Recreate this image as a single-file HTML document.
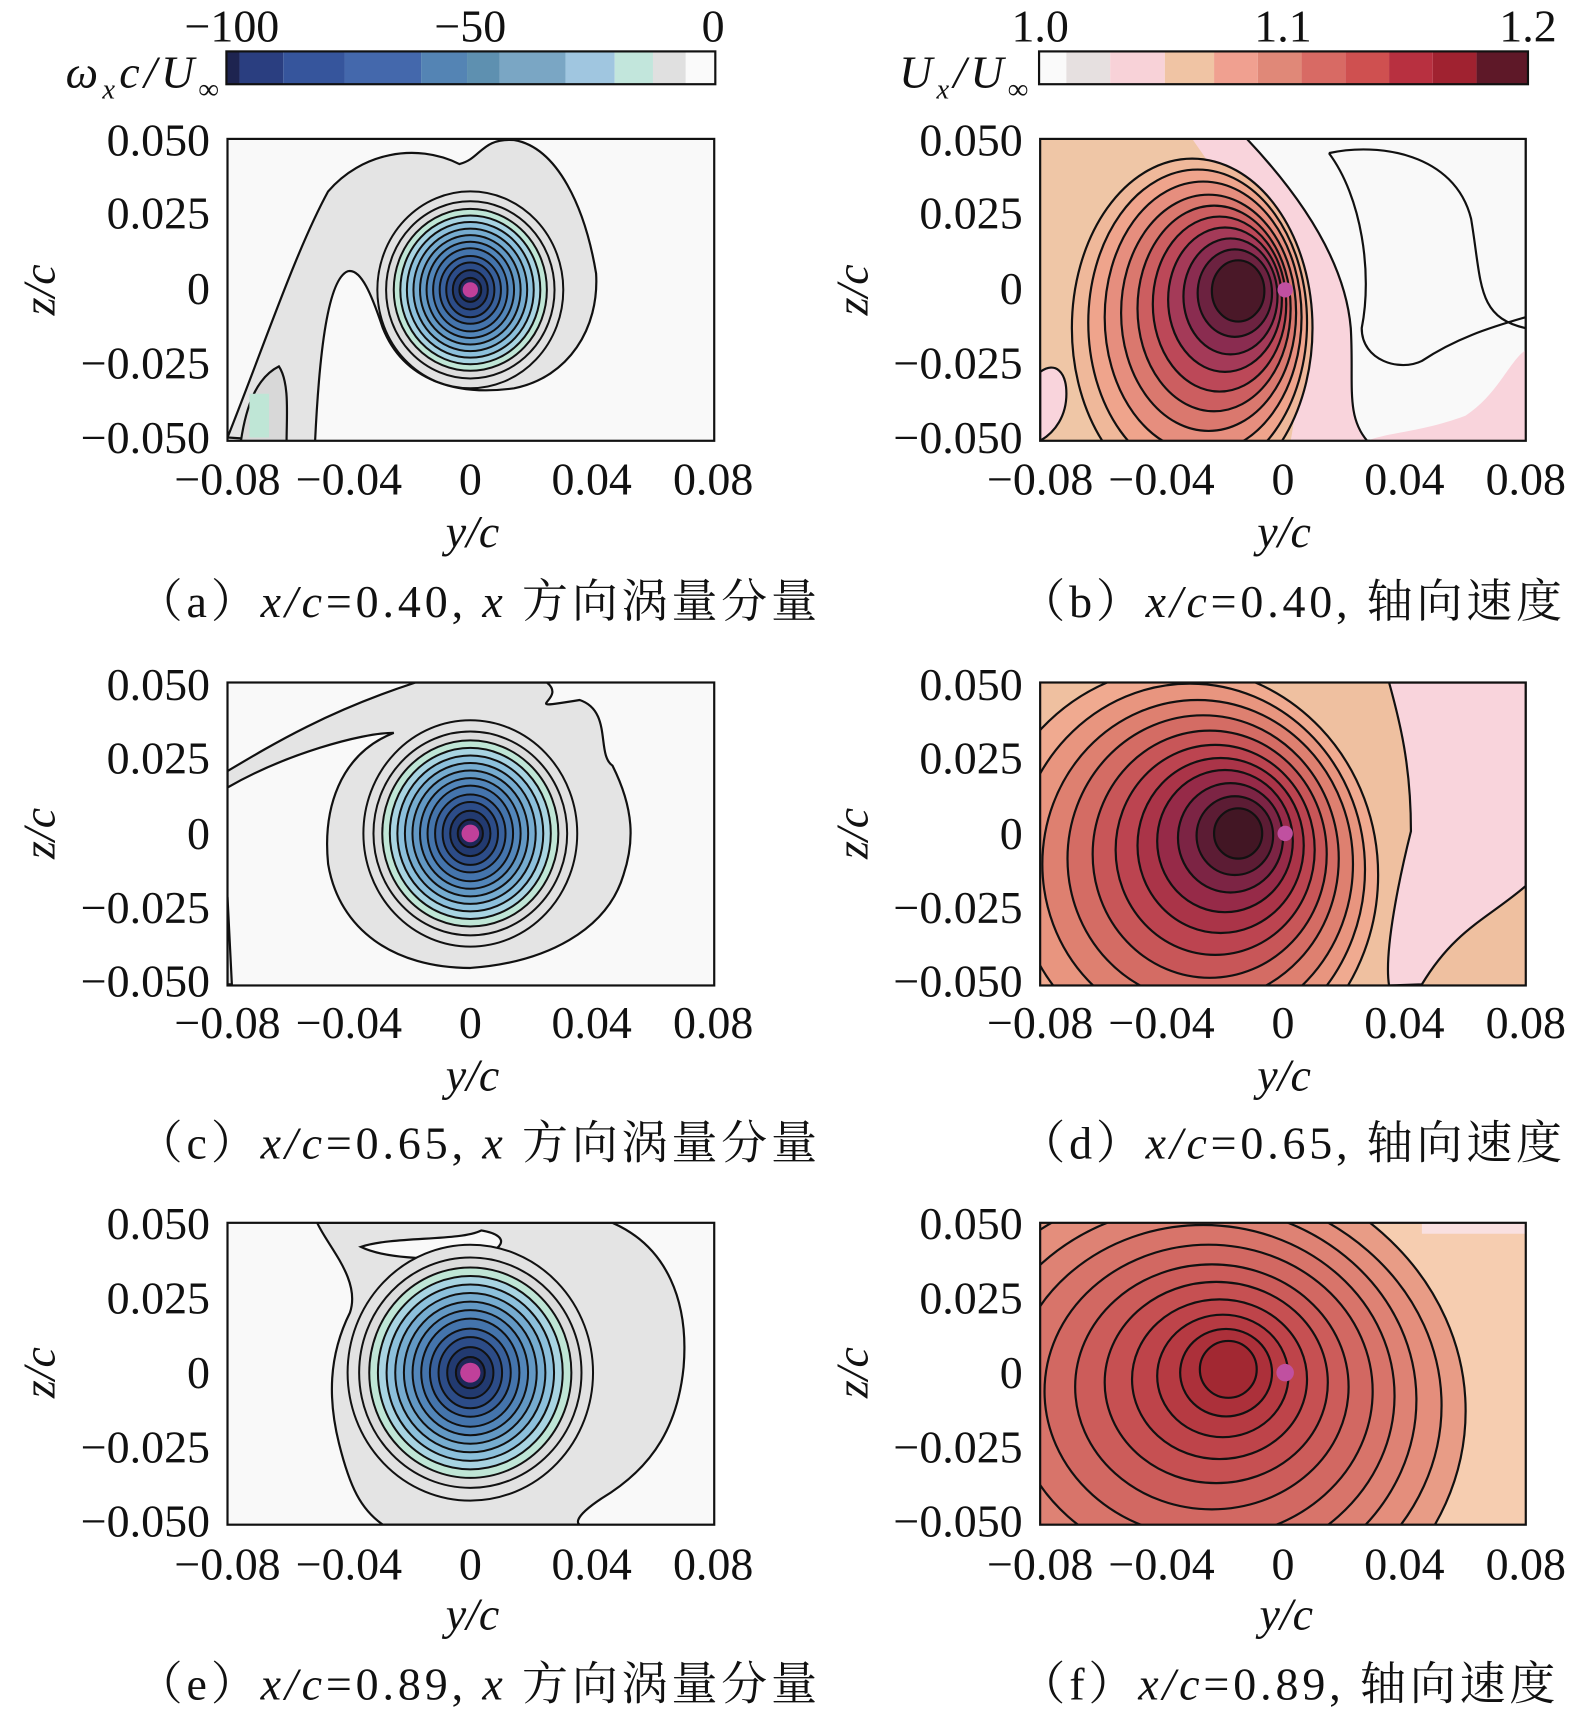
<!DOCTYPE html>
<html><head><meta charset="utf-8"><style>
html,body{margin:0;padding:0;background:#fff;}
svg{display:block}
text{font-family:"Liberation Serif","Noto Serif CJK SC",serif;fill:#111;}
.t{font-size:42px}
.i{font-style:italic}
.c{font-size:42px}
</style></head><body>
<svg width="1575" height="1715" viewBox="0 0 1440 1568" preserveAspectRatio="none" xmlns="http://www.w3.org/2000/svg">
<defs>
<clipPath id="ca"><rect x="208" y="127" width="445" height="276"/></clipPath>
<clipPath id="cb"><rect x="951" y="127" width="444" height="276"/></clipPath>
<clipPath id="cc"><rect x="208" y="624" width="445" height="277"/></clipPath>
<clipPath id="cd"><rect x="951" y="624" width="444" height="277"/></clipPath>
<clipPath id="ce"><rect x="208" y="1118" width="445" height="276"/></clipPath>
<clipPath id="cf"><rect x="951" y="1118" width="444" height="276"/></clipPath>
<g id="vr" stroke="#111" stroke-width="2">
<ellipse rx="85" ry="90" fill="#e2e2e2" vector-effect="non-scaling-stroke"/>
<ellipse rx="77" ry="81" fill="#dcdcdc" vector-effect="non-scaling-stroke"/>
<ellipse rx="70" ry="74" fill="#bfe6d6" vector-effect="non-scaling-stroke"/>
<ellipse rx="64" ry="68" fill="#a8d4e2" vector-effect="non-scaling-stroke"/>
<ellipse rx="58" ry="62" fill="#8cc0dc" vector-effect="non-scaling-stroke"/>
<ellipse rx="52" ry="56" fill="#76acd0" vector-effect="non-scaling-stroke"/>
<ellipse rx="46" ry="50" fill="#6298c4" vector-effect="non-scaling-stroke"/>
<ellipse rx="40" ry="44" fill="#5286ba" vector-effect="non-scaling-stroke"/>
<ellipse rx="34" ry="38" fill="#4474ac" vector-effect="non-scaling-stroke"/>
<ellipse rx="28" ry="31" fill="#38609c" vector-effect="non-scaling-stroke"/>
<ellipse rx="22" ry="25" fill="#2c4c88" vector-effect="non-scaling-stroke"/>
<ellipse rx="16" ry="18" fill="#223a70" vector-effect="non-scaling-stroke"/>
<ellipse rx="10" ry="11" fill="#1c2858" vector-effect="non-scaling-stroke"/>
<circle r="7" fill="#c0409a" stroke="none"/>
</g>
</defs>

<!-- colorbars -->
<g stroke="none">
<rect x="207" y="47" width="12" height="30" fill="#1e2450"/>
<rect x="219" y="47" width="40" height="30" fill="#2a3e80"/>
<rect x="259" y="47" width="56" height="30" fill="#36559c"/>
<rect x="315" y="47" width="70" height="30" fill="#4468ac"/>
<rect x="385" y="47" width="42" height="30" fill="#5484b4"/>
<rect x="427" y="47" width="30" height="30" fill="#5e90b0"/>
<rect x="457" y="47" width="60" height="30" fill="#7aa6c4"/>
<rect x="517" y="47" width="45" height="30" fill="#a0c6e0"/>
<rect x="562" y="47" width="35" height="30" fill="#c2e6dc"/>
<rect x="597" y="47" width="30" height="30" fill="#e0e0e0"/>
<rect x="627" y="47" width="27" height="30" fill="#fafafa"/>
</g>
<rect x="207" y="47" width="447" height="30" fill="none" stroke="#111" stroke-width="2"/>
<g stroke="none">
<rect x="950" y="47" width="25" height="30" fill="#fafafa"/>
<rect x="975" y="47" width="40" height="30" fill="#e6e0e0"/>
<rect x="1015" y="47" width="50" height="30" fill="#f8d2d8"/>
<rect x="1065" y="47" width="45" height="30" fill="#f0c4a4"/>
<rect x="1110" y="47" width="40" height="30" fill="#f0a090"/>
<rect x="1150" y="47" width="40" height="30" fill="#e08878"/>
<rect x="1190" y="47" width="40" height="30" fill="#d86a64"/>
<rect x="1230" y="47" width="40" height="30" fill="#cf5050"/>
<rect x="1270" y="47" width="40" height="30" fill="#b83040"/>
<rect x="1310" y="47" width="40" height="30" fill="#a02230"/>
<rect x="1350" y="47" width="47" height="30" fill="#5e1828"/>
</g>
<rect x="950" y="47" width="447" height="30" fill="none" stroke="#111" stroke-width="2"/>
<g class="t" text-anchor="middle">
<text x="212" y="38">−100</text><text x="430" y="38">−50</text><text x="652" y="38">0</text>
<text x="951" y="38">1.0</text><text x="1173" y="38">1.1</text><text x="1397" y="38">1.2</text>
</g>
<text x="60" y="80" class="t i" textLength="140">ω<tspan font-size="26" dy="10">x</tspan><tspan dy="-10">c/U</tspan><tspan font-size="26" dy="10">∞</tspan></text>
<text x="822" y="80" class="t i" textLength="118">U<tspan font-size="26" dy="10">x</tspan><tspan dy="-10">/U</tspan><tspan font-size="26" dy="10">∞</tspan></text>

<!-- Plot a -->
<g clip-path="url(#ca)">
<rect x="208" y="127" width="445" height="276" fill="#f9f9f9"/>
<path d="M208,400 C240,320 270,230 300,175 C330,140 380,130 420,150 C440,145 440,126 470,128 C510,135 535,190 545,250 C548,300 520,345 470,355 C420,362 370,350 350,300 C340,270 330,245 318,248 C300,255 292,320 288,405 Z" fill="#e4e4e4" stroke="#111" stroke-width="2"/>
<path d="M220,405 C225,370 235,345 255,335 C265,350 262,380 262,405 Z" fill="#d8d8d8" stroke="#111" stroke-width="2"/>
<rect x="228" y="360" width="18" height="40" fill="#bfe6d6"/>
<use href="#vr" transform="translate(430,265)"/>
</g>
<rect x="208" y="127" width="445" height="276" fill="none" stroke="#111" stroke-width="2"/>

<!-- Plot c -->
<g clip-path="url(#cc)">
<rect x="208" y="624" width="445" height="277" fill="#f9f9f9"/>
<path d="M208,705 C250,680 300,650 380,624 L500,624 C520,640 470,650 530,640 C560,650 545,690 560,700 C580,740 580,770 570,800 C555,850 500,880 430,885 C360,885 310,850 300,790 C295,740 310,690 360,670 C330,670 260,690 208,720 Z" fill="#e4e4e4" stroke="#111" stroke-width="2"/>
<path d="M208,820 L212,900 L208,900 Z" fill="#e4e4e4" stroke="#111" stroke-width="2"/>
<use href="#vr" transform="translate(430,762) scale(1.15,1.15)"/>
</g>
<rect x="208" y="624" width="445" height="277" fill="none" stroke="#111" stroke-width="2"/>

<!-- Plot e -->
<g clip-path="url(#ce)">
<rect x="208" y="1118" width="445" height="276" fill="#f9f9f9"/>
<path d="M290,1118 L560,1118 C610,1140 630,1190 625,1250 C620,1300 600,1340 550,1370 C520,1390 530,1394 530,1394 L350,1394 C330,1380 320,1360 310,1320 C300,1280 300,1240 320,1200 C330,1170 300,1140 290,1118 Z" fill="#e4e4e4" stroke="#111" stroke-width="2"/>
<path d="M330,1140 C360,1130 420,1135 440,1125 C470,1130 460,1145 430,1150 C390,1152 350,1150 330,1140 Z" fill="#f9f9f9" stroke="#111" stroke-width="2"/>
<use href="#vr" transform="translate(430,1255) scale(1.32,1.3)"/>
</g>
<rect x="208" y="1118" width="445" height="276" fill="none" stroke="#111" stroke-width="2"/>

<!-- Plot b -->
<g clip-path="url(#cb)" stroke="#111" stroke-width="2">
<rect x="951" y="127" width="444" height="276" fill="#efc6a6" stroke="none"/>
<path d="M1090,127 L1395,127 L1395,403 L1180,403 C1195,330 1170,230 1120,170 Z" fill="#f9d4dc" stroke="none"/>
<path d="M1140,127 C1190,180 1230,240 1235,300 C1238,350 1230,380 1250,403 L1395,403 L1395,127 Z" fill="#f9f9f9"/>
<path d="M1250,403 L1395,403 L1395,320 C1380,330 1370,360 1340,380 C1300,395 1270,395 1250,403 Z" fill="#f9d4dc" stroke="none"/>
<path d="M1215,140 C1260,130 1330,140 1345,200 C1355,260 1350,290 1395,300" fill="none"/>
<path d="M1215,140 C1245,180 1255,250 1245,300 C1245,330 1280,340 1300,330 C1330,310 1360,300 1395,290" fill="none"/>
<path d="M951,340 C965,330 975,340 975,360 C975,380 965,395 951,403 Z" fill="#f9d4dc"/>
<ellipse cx="1090" cy="300" rx="110" ry="155" fill="#efb89a"/>
<ellipse cx="1095" cy="295" rx="100" ry="140" fill="#efa48c"/>
<ellipse cx="1100" cy="290" rx="90" ry="124" fill="#e68e7e"/>
<ellipse cx="1105" cy="286" rx="80" ry="108" fill="#da786e"/>
<ellipse cx="1110" cy="282" rx="70" ry="94" fill="#cc5e60"/>
<ellipse cx="1115" cy="278" rx="61" ry="80" fill="#bc4858"/>
<ellipse cx="1120" cy="274" rx="52" ry="66" fill="#a43a58"/>
<ellipse cx="1125" cy="271" rx="43" ry="53" fill="#8a2c50"/>
<ellipse cx="1129" cy="268" rx="34" ry="40" fill="#6c2240"/>
<ellipse cx="1132" cy="266" rx="24" ry="28" fill="#4a1828"/>
<circle cx="1175" cy="265" r="7" fill="#c050a0" stroke="none"/>
</g>
<rect x="951" y="127" width="444" height="276" fill="none" stroke="#111" stroke-width="2"/>

<!-- Plot d -->
<g clip-path="url(#cd)" stroke="#111" stroke-width="2">
<rect x="951" y="624" width="444" height="277" fill="#efc0a0" stroke="none"/>
<path d="M1270,624 L1395,624 L1395,810 C1360,840 1330,850 1300,900 L1270,901 C1265,870 1280,800 1290,760 C1290,700 1280,660 1270,624 Z" fill="#f9d4dc"/>
<ellipse cx="1080" cy="800" rx="180" ry="190" fill="#f0aa90"/>
<ellipse cx="1088" cy="795" rx="160" ry="170" fill="#e8957f"/>
<ellipse cx="1095" cy="790" rx="142" ry="150" fill="#de8070"/>
<ellipse cx="1100" cy="785" rx="124" ry="131" fill="#d46c64"/>
<ellipse cx="1106" cy="781" rx="107" ry="113" fill="#c85658"/>
<ellipse cx="1111" cy="777" rx="91" ry="96" fill="#bc4450"/>
<ellipse cx="1116" cy="773" rx="76" ry="80" fill="#aa3448"/>
<ellipse cx="1120" cy="769" rx="62" ry="65" fill="#962a48"/>
<ellipse cx="1125" cy="766" rx="48" ry="50" fill="#7c2444"/>
<ellipse cx="1129" cy="764" rx="35" ry="36" fill="#5c1c34"/>
<ellipse cx="1132" cy="762" rx="22" ry="23" fill="#421624"/>
<circle cx="1175" cy="762" r="7" fill="#c050a0" stroke="none"/>
</g>
<rect x="951" y="624" width="444" height="277" fill="none" stroke="#111" stroke-width="2"/>

<!-- Plot f -->
<g clip-path="url(#cf)" stroke="#111" stroke-width="2">
<rect x="951" y="1118" width="444" height="276" fill="#f6cdb0" stroke="none"/>
<rect x="1300" y="1118" width="95" height="10" fill="#f9e0e0" stroke="none"/>
<ellipse cx="1080" cy="1290" rx="260" ry="230" fill="#e89c86"/>
<ellipse cx="1088" cy="1285" rx="230" ry="200" fill="#e48e7c"/>
<ellipse cx="1095" cy="1280" rx="200" ry="178" fill="#de8274"/>
<ellipse cx="1100" cy="1276" rx="175" ry="156" fill="#d8746a"/>
<ellipse cx="1105" cy="1272" rx="150" ry="134" fill="#d26862"/>
<ellipse cx="1108" cy="1268" rx="125" ry="112" fill="#cc5c5a"/>
<ellipse cx="1112" cy="1264" rx="102" ry="92" fill="#c65052"/>
<ellipse cx="1115" cy="1261" rx="80" ry="73" fill="#be444a"/>
<ellipse cx="1118" cy="1258" rx="60" ry="56" fill="#b63a42"/>
<ellipse cx="1121" cy="1255" rx="42" ry="40" fill="#ac303a"/>
<ellipse cx="1123" cy="1252" rx="26" ry="26" fill="#a22832"/>
<circle cx="1175" cy="1255" r="8" fill="#c050a0" stroke="none"/>
</g>
<rect x="951" y="1118" width="444" height="276" fill="none" stroke="#111" stroke-width="2"/>

<!-- tick labels -->
<g class="t" text-anchor="end">
<text x="192" y="142">0.050</text><text x="192" y="209">0.025</text><text x="192" y="278">0</text><text x="192" y="346">−0.025</text><text x="192" y="414">−0.050</text>
<text x="935" y="142">0.050</text><text x="935" y="209">0.025</text><text x="935" y="278">0</text><text x="935" y="346">−0.025</text><text x="935" y="414">−0.050</text>
<text x="192" y="640">0.050</text><text x="192" y="707">0.025</text><text x="192" y="776">0</text><text x="192" y="844">−0.025</text><text x="192" y="911">−0.050</text>
<text x="935" y="640">0.050</text><text x="935" y="707">0.025</text><text x="935" y="776">0</text><text x="935" y="844">−0.025</text><text x="935" y="911">−0.050</text>
<text x="192" y="1133">0.050</text><text x="192" y="1201">0.025</text><text x="192" y="1269">0</text><text x="192" y="1337">−0.025</text><text x="192" y="1405">−0.050</text>
<text x="935" y="1133">0.050</text><text x="935" y="1201">0.025</text><text x="935" y="1269">0</text><text x="935" y="1337">−0.025</text><text x="935" y="1405">−0.050</text>
</g>
<g class="t" text-anchor="middle">
<text x="208" y="452">−0.08</text><text x="319" y="452">−0.04</text><text x="430" y="452">0</text><text x="541" y="452">0.04</text><text x="652" y="452">0.08</text>
<text x="951" y="452">−0.08</text><text x="1062" y="452">−0.04</text><text x="1173" y="452">0</text><text x="1284" y="452">0.04</text><text x="1395" y="452">0.08</text>
<text x="208" y="949">−0.08</text><text x="319" y="949">−0.04</text><text x="430" y="949">0</text><text x="541" y="949">0.04</text><text x="652" y="949">0.08</text>
<text x="951" y="949">−0.08</text><text x="1062" y="949">−0.04</text><text x="1173" y="949">0</text><text x="1284" y="949">0.04</text><text x="1395" y="949">0.08</text>
<text x="208" y="1444">−0.08</text><text x="319" y="1444">−0.04</text><text x="430" y="1444">0</text><text x="541" y="1444">0.04</text><text x="652" y="1444">0.08</text>
<text x="951" y="1444">−0.08</text><text x="1062" y="1444">−0.04</text><text x="1173" y="1444">0</text><text x="1284" y="1444">0.04</text><text x="1395" y="1444">0.08</text>
</g>
<g class="t i" text-anchor="middle">
<text x="432" y="500">y/c</text><text x="1174" y="500">y/c</text>
<text x="432" y="997">y/c</text><text x="1174" y="997">y/c</text>
<text x="432" y="1490">y/c</text><text x="1176" y="1490">y/c</text>
<text transform="translate(50,265) rotate(-90)">z/c</text>
<text transform="translate(793,265) rotate(-90)">z/c</text>
<text transform="translate(50,762) rotate(-90)">z/c</text>
<text transform="translate(793,762) rotate(-90)">z/c</text>
<text transform="translate(50,1255) rotate(-90)">z/c</text>
<text transform="translate(793,1255) rotate(-90)">z/c</text>
</g>
<!-- captions -->
<g class="c">
<text x="125" y="564" textLength="622" lengthAdjust="spacing">（a）<tspan class="i">x/c</tspan>=0.40, <tspan class="i">x</tspan> 方向涡量分量</text>
<text x="932" y="564" textLength="496" lengthAdjust="spacing">（b）<tspan class="i">x/c</tspan>=0.40, 轴向速度</text>
<text x="125" y="1059" textLength="622" lengthAdjust="spacing">（c）<tspan class="i">x/c</tspan>=0.65, <tspan class="i">x</tspan> 方向涡量分量</text>
<text x="932" y="1059" textLength="496" lengthAdjust="spacing">（d）<tspan class="i">x/c</tspan>=0.65, 轴向速度</text>
<text x="125" y="1554" textLength="622" lengthAdjust="spacing">（e）<tspan class="i">x/c</tspan>=0.89, <tspan class="i">x</tspan> 方向涡量分量</text>
<text x="932" y="1554" textLength="490" lengthAdjust="spacing">（f）<tspan class="i">x/c</tspan>=0.89, 轴向速度</text>
</g>
</svg>
</body></html>
